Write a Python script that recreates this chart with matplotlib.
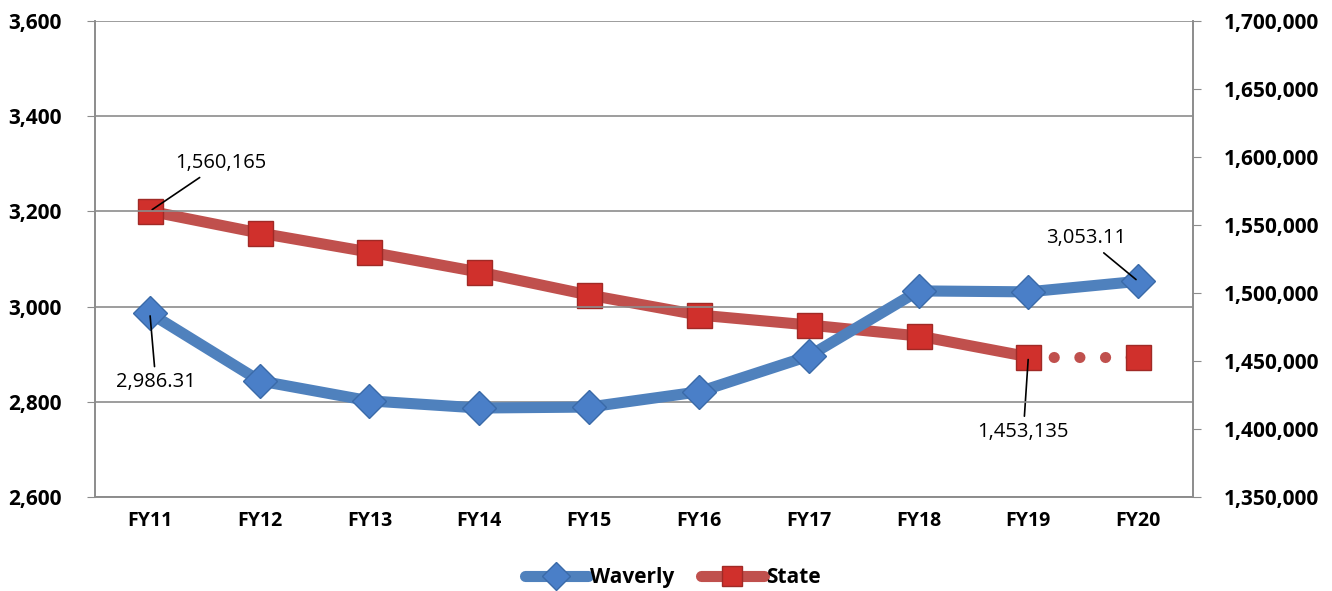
import matplotlib.pyplot as plt
from matplotlib.ticker import FuncFormatter

years = ['FY11', 'FY12', 'FY13', 'FY14', 'FY15', 'FY16', 'FY17', 'FY18', 'FY19', 'FY20']
waverly = [2986.31, 2844, 2802, 2787, 2789, 2821, 2896, 3033, 3031, 3053.11]
state = [1560165, 1544100, 1530100, 1515400, 1498500, 1483800, 1476500, 1468400, 1453135, 1453135]

blue = '#4F81BD'
red = '#C0504D'
grid_c = '#8C8C8C'

plt.rcParams['font.family'] = ['Open Sans', 'DejaVu Sans']

fig = plt.figure(figsize=(13.32, 5.91), dpi=100)
ax = fig.add_axes([0.0713, 0.159, 0.8244, 0.8055])
ax2 = ax.twinx()

x = list(range(len(years)))

# left axis: Waverly
ax.set_ylim(2600, 3600)
ax.set_yticks(range(2600, 3601, 200))
ax.yaxis.set_major_formatter(FuncFormatter(lambda v, p: f'{v:,.0f}'))
ax.grid(axis='y', color=grid_c, lw=1.2)
ax.set_axisbelow(True)
ax.set_xlim(-0.5, 9.5)
ax.set_xticks(x)
ax.set_xticklabels(years)

# right axis: State
ax2.set_ylim(1350000, 1700000)
ax2.set_yticks(range(1350000, 1700001, 50000))
ax2.yaxis.set_major_formatter(FuncFormatter(lambda v, p: f'{v:,.0f}'))

for a in (ax, ax2):
    for s in a.spines.values():
        s.set_color(grid_c)
        s.set_linewidth(1.2)
    a.spines['top'].set_visible(False)
    a.tick_params(axis='y', length=6, color=grid_c, labelsize=15)
    for lbl in a.get_yticklabels():
        lbl.set_fontweight('bold')
ax.tick_params(axis='y', pad=18)
ax2.tick_params(axis='y', pad=16)
ax.tick_params(axis='x', length=0, labelsize=14, pad=10)
for lbl in ax.get_xticklabels():
    lbl.set_fontweight('bold')

# State line (solid to FY19, dotted projection to FY20)
ax2.plot(x[:9], state[:9], color=red, lw=8, solid_capstyle='round', zorder=2)
ax2.plot(x[8:], state[8:], color=red, lw=8, ls=(0, (0.01, 2.3)),
         dash_capstyle='round', zorder=2)
ax2.plot(x, state, ls='none', marker='s', ms=18, mfc='#D0302C',
         mec='#A02A26', mew=1, zorder=3)

# Waverly line
ax.set_zorder(ax2.get_zorder() + 1)
ax.patch.set_visible(False)
ax.plot(x, waverly, color=blue, lw=8, solid_capstyle='round', zorder=2)
ax.plot(x, waverly, ls='none', marker='D', ms=17, mfc='#4A7FC8',
        mec='#3A6AA8', mew=1, zorder=3)

# data labels
ak = dict(fontsize=14.5, color='black', arrowprops=dict(arrowstyle='-', color='black', lw=1.2))
ax2.annotate(f'{state[0]:,}', xy=(x[0], state[0]), xytext=(71, 48),
             textcoords='offset pixels', ha='center', va='center', **ak)
ax2.annotate(f'{state[8]:,}', xy=(x[8], state[8]), xytext=(-5, -75),
             textcoords='offset pixels', ha='center', va='center', **ak)
ax.annotate(f'{waverly[0]:,.2f}', xy=(x[0], waverly[0]), xytext=(6, -69),
            textcoords='offset pixels', ha='center', va='center', **ak)
ax.annotate(f'{waverly[9]:,.2f}', xy=(x[9], waverly[9]), xytext=(-52, 43),
            textcoords='offset pixels', ha='center', va='center', **ak)

# legend
h1, = ax.plot([], [], color=blue, lw=8, marker='D', ms=14, mfc='#4A7FC8', mec='#3A6AA8',
              solid_capstyle='round')
h2, = ax.plot([], [], color=red, lw=8, marker='s', ms=15, mfc='#D0302C', mec='#A02A26',
              solid_capstyle='round')
leg = fig.legend([h1, h2], ['Waverly', 'State'], loc='center', bbox_to_anchor=(0.505, 0.022),
                 ncol=2, frameon=False, handlelength=3.0, columnspacing=1.3,
                 handletextpad=0.1, prop={'size': 15, 'weight': 'bold'})

fig.savefig('out.png', dpi=100)
